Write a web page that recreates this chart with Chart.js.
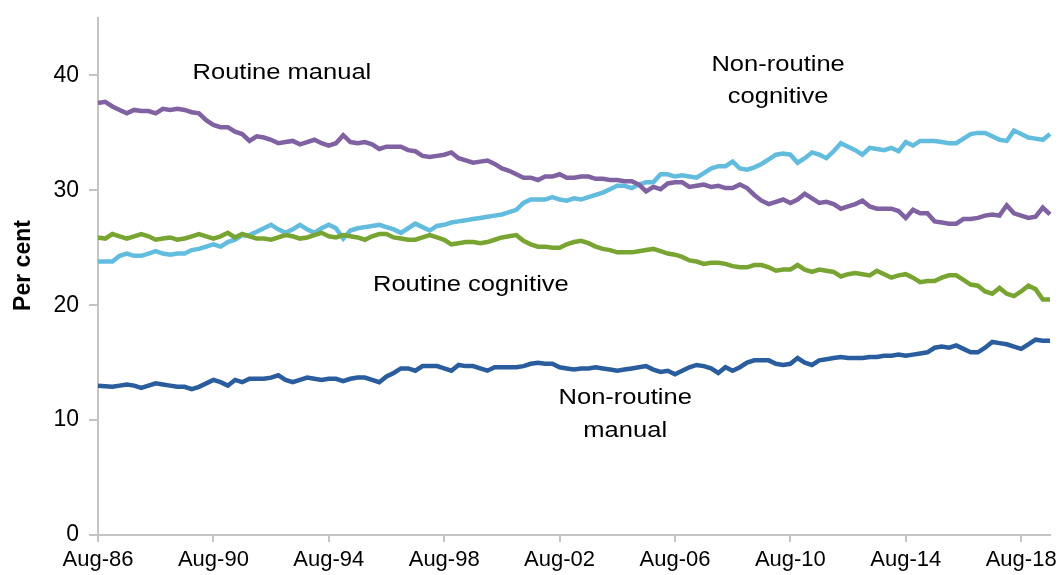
<!DOCTYPE html>
<html>
<head>
<meta charset="utf-8">
<script src="https://cdn.jsdelivr.net/npm/chart.js@4/dist/chart.umd.min.js"></script>
<style>
  html, body { margin: 0; padding: 0; background: #fff; }
  #wrap { width: 1064px; height: 575px; position: relative; }
</style>
</head>
<body>
<div id="wrap"><canvas id="out"></canvas></div>
<script>
// quarterly, Aug-86 .. Aug-19
const quarterMonths = ["Aug", "Nov", "Feb", "May"];
const quarters = [];
for (let i = 0; i < 133; i++) {
  const m = quarterMonths[i % 4];
  const y = m === "Aug" || m === "Nov" ? 1986 + Math.floor(i / 4) : 1987 + Math.floor(i / 4);
  quarters.push(m + "-" + String(y % 100).padStart(2, "0"));
}
const tickLabels = ["Aug-86", "Aug-90", "Aug-94", "Aug-98", "Aug-02", "Aug-06", "Aug-10", "Aug-14", "Aug-18"];
const yTicks = [0, 10, 20, 30, 40];

const routineManual = [
  37.6, 37.7, 37.3, 37.0, 36.7, 37.0, 36.9, 36.9, 36.7, 37.1, 37.0, 37.1, 37.0, 36.8, 36.7, 36.1,
  35.7, 35.5, 35.5, 35.1, 34.9, 34.3, 34.7, 34.6, 34.4, 34.1, 34.2, 34.3, 34.0, 34.2, 34.4, 34.1,
  33.9, 34.1, 34.8, 34.2, 34.1, 34.2, 34.0, 33.6, 33.8, 33.8, 33.8, 33.5, 33.4, 33.0, 32.9, 33.0,
  33.1, 33.3, 32.8, 32.6, 32.4, 32.5, 32.6, 32.3, 31.9, 31.7, 31.4, 31.1, 31.1, 30.9, 31.2, 31.2,
  31.4, 31.1, 31.1, 31.2, 31.2, 31.0, 31.0, 30.9, 30.9, 30.8, 30.8, 30.5, 29.9, 30.3, 30.1, 30.6,
  30.7, 30.7, 30.3, 30.4, 30.5, 30.3, 30.4, 30.2, 30.2, 30.5, 30.2, 29.6, 29.1, 28.8, 29.0, 29.2,
  28.9, 29.2, 29.7, 29.3, 28.9, 29.0, 28.8, 28.4, 28.6, 28.8, 29.1, 28.6, 28.4, 28.4, 28.4, 28.2,
  27.6, 28.3, 28.0, 28.0, 27.3, 27.2, 27.1, 27.1, 27.5, 27.5, 27.6, 27.8, 27.9, 27.8, 28.7, 28.0,
  27.8, 27.6, 27.7, 28.5, 27.9
];
const nonRoutineCognitive = [
  23.8, 23.8, 23.8, 24.3, 24.5, 24.3, 24.3, 24.5, 24.7, 24.5, 24.4, 24.5, 24.5, 24.8, 24.9, 25.1,
  25.3, 25.1, 25.5, 25.7, 26.1, 26.1, 26.4, 26.7, 27.0, 26.6, 26.3, 26.6, 27.0, 26.6, 26.3, 26.7,
  27.0, 26.7, 25.8, 26.5, 26.7, 26.8, 26.9, 27.0, 26.8, 26.6, 26.3, 26.7, 27.1, 26.8, 26.5, 26.9,
  27.0, 27.2, 27.3, 27.4, 27.5, 27.6, 27.7, 27.8, 27.9, 28.1, 28.3, 28.9, 29.2, 29.2, 29.2, 29.4,
  29.2, 29.1, 29.3, 29.2, 29.4, 29.6, 29.8, 30.1, 30.4, 30.4, 30.2, 30.5, 30.7, 30.7, 31.4, 31.4,
  31.2, 31.3, 31.2, 31.1, 31.5, 31.9, 32.1, 32.1, 32.5, 31.9, 31.8, 32.0, 32.3, 32.7, 33.1, 33.2,
  33.1, 32.4, 32.8, 33.3, 33.1, 32.8, 33.4, 34.1, 33.8, 33.5, 33.1, 33.7, 33.6, 33.5, 33.7, 33.4,
  34.2, 33.9, 34.3, 34.3, 34.3, 34.2, 34.1, 34.1, 34.5, 34.9, 35.0, 35.0, 34.7, 34.4, 34.3, 35.2,
  34.9, 34.6, 34.5, 34.4, 34.9
];
const routineCognitive = [
  25.9, 25.8, 26.2, 26.0, 25.8, 26.0, 26.2, 26.0, 25.7, 25.8, 25.9, 25.7, 25.8, 26.0, 26.2, 26.0,
  25.8, 26.0, 26.3, 25.9, 26.2, 26.0, 25.8, 25.8, 25.7, 25.9, 26.1, 26.0, 25.8, 25.9, 26.1, 26.3,
  26.0, 25.9, 26.1, 26.0, 25.9, 25.7, 26.0, 26.2, 26.2, 25.9, 25.8, 25.7, 25.7, 25.9, 26.1, 25.9,
  25.7, 25.3, 25.4, 25.5, 25.5, 25.4, 25.5, 25.7, 25.9, 26.0, 26.1, 25.6, 25.3, 25.1, 25.1, 25.0,
  25.0, 25.3, 25.5, 25.6, 25.4, 25.1, 24.9, 24.8, 24.6, 24.6, 24.6, 24.7, 24.8, 24.9, 24.7, 24.5,
  24.4, 24.2, 23.9, 23.8, 23.6, 23.7, 23.7, 23.6, 23.4, 23.3, 23.3, 23.5, 23.5, 23.3, 23.0, 23.1,
  23.1, 23.5, 23.1, 22.9, 23.1, 23.0, 22.9, 22.5, 22.7, 22.8, 22.7, 22.6, 23.0, 22.7, 22.4, 22.6,
  22.7, 22.4, 22.0, 22.1, 22.1, 22.4, 22.6, 22.6, 22.2, 21.8, 21.7, 21.2, 21.0, 21.5, 21.0, 20.8,
  21.2, 21.7, 21.4, 20.5, 20.5
];
const nonRoutineManual = [
  13.0, 12.95, 12.9, 13.0, 13.1, 13.0, 12.8, 13.0, 13.2, 13.1, 13.0, 12.9, 12.9, 12.7, 12.9, 13.2,
  13.5, 13.3, 13.0, 13.5, 13.3, 13.6, 13.6, 13.6, 13.7, 13.9, 13.5, 13.3, 13.5, 13.7, 13.6, 13.5,
  13.6, 13.6, 13.4, 13.6, 13.7, 13.7, 13.5, 13.3, 13.8, 14.1, 14.5, 14.5, 14.3, 14.7, 14.7, 14.7,
  14.5, 14.3, 14.8, 14.7, 14.7, 14.5, 14.3, 14.6, 14.6, 14.6, 14.6, 14.7, 14.9, 15.0, 14.9, 14.9,
  14.6, 14.5, 14.4, 14.5, 14.5, 14.6, 14.5, 14.4, 14.3, 14.4, 14.5, 14.6, 14.7, 14.4, 14.2, 14.3,
  14.0, 14.3, 14.6, 14.8, 14.7, 14.5, 14.1, 14.6, 14.3, 14.6, 15.0, 15.2, 15.2, 15.2, 14.9, 14.8,
  14.9, 15.4, 15.0, 14.8, 15.2, 15.3, 15.4, 15.5, 15.4, 15.4, 15.4, 15.5, 15.5, 15.6, 15.6, 15.7,
  15.6, 15.7, 15.8, 15.9, 16.3, 16.4, 16.3, 16.5, 16.2, 15.9, 15.9, 16.3, 16.8, 16.7, 16.6, 16.4,
  16.2, 16.6, 17.0, 16.9, 16.9
];

// in-chart labels: text lines, anchor quarter index, anchor value
const seriesLabels = [
  { lines: ["Routine manual"], at: 25.5, val: 40.2 },
  { lines: ["Non-routine", "cognitive"], at: 94.3, val: 40.9 },
  { lines: ["Routine cognitive"], at: 51.7, val: 21.8 },
  { lines: ["Non-routine", "manual"], at: 73.1, val: 11.9 }
];
const yTitle = "Per cent";

const FONT = "'Liberation Sans', Arial, sans-serif";
const AXIS_GREY = "#c4c4c4";

const labelPlugin = {
  id: "seriesLabels",
  afterDatasetsDraw(chart) {
    const ctx = chart.ctx;
    const xs = chart.scales.x, ys = chart.scales.y;
    const area = chart.chartArea;
    const lineGap = ys.getPixelForValue(0) - ys.getPixelForValue(2.8);
    ctx.save();
    ctx.fillStyle = "#000";
    ctx.font = "22px " + FONT;
    ctx.textAlign = "center";
    ctx.textBaseline = "middle";
    for (const lab of seriesLabels) {
      const x = xs.getPixelForValue(lab.at);
      let y = ys.getPixelForValue(lab.val);
      for (const line of lab.lines) {
        ctx.save();
        ctx.translate(x, y);
        ctx.scale(1.16, 1);
        ctx.fillText(line, 0, 0);
        ctx.restore();
        y += lineGap;
      }
    }
    // axis title, sits a little above the middle of the axis
    ctx.font = "bold 23px " + FONT;
    ctx.translate(ys.left + 14, (area.top + area.bottom) / 2 - 11);
    ctx.rotate(-Math.PI / 2);
    ctx.fillText(yTitle, 0, 0);
    ctx.restore();
  }
};

function line(label, data, color) {
  return {
    label: label,
    data: data,
    borderColor: color,
    backgroundColor: color,
    borderWidth: 4.5,
    pointRadius: 0,
    tension: 0,
    fill: false
  };
}

const canvasCtx = document.getElementById("out").getContext("2d");
const chartConfig = {
  type: "line",
  data: {
    labels: quarters,
    // first dataset is drawn on top
    datasets: [
      line("Non-routine manual", nonRoutineManual, "#2a5d9e"),
      line("Routine manual", routineManual, "#8062a3"),
      line("Routine cognitive", routineCognitive, "#78a532"),
      line("Non-routine cognitive", nonRoutineCognitive, "#62bcdd")
    ]
  },
  options: {
    responsive: true,
    maintainAspectRatio: false,
    animation: false,
    layout: { padding: { left: 10, right: 14, top: 18, bottom: 0 } },
    plugins: { legend: { display: false }, tooltip: { enabled: false } },
    scales: {
      x: {
        type: "category",
        offset: false,
        grid: { drawOnChartArea: false, drawTicks: true, tickLength: 7, color: AXIS_GREY, lineWidth: 2 },
        border: { color: AXIS_GREY, width: 2 },
        ticks: {
          autoSkip: false,
          maxRotation: 0,
          color: "#000",
          font: { family: FONT, size: 22 },
          padding: 5,
          callback: function (v) { return quarters[v]; }
        },
        afterBuildTicks: function (scale) {
          scale.ticks = scale.ticks.filter(t => tickLabels.includes(quarters[t.value]));
        },
        afterFit: function (scale) { scale.height = 40; }
      },
      y: {
        min: 0,
        max: 45,
        grid: { drawOnChartArea: false, drawTicks: true, tickLength: 9, color: AXIS_GREY, lineWidth: 2 },
        border: { color: AXIS_GREY, width: 2 },
        ticks: {
          stepSize: 10,
          color: "#000",
          font: { family: FONT, size: 23 },
          padding: 10
        },
        afterBuildTicks: function (scale) {
          scale.ticks = yTicks.map(v => ({ value: v }));
        },
        afterFit: function (scale) {
          scale.width = 88;
          scale.paddingTop = 0;
          scale.paddingBottom = 0;
        }
      }
    }
  },
  plugins: [labelPlugin]
};

window.chart = new Chart(canvasCtx, chartConfig);
</script>
</body>
</html>
